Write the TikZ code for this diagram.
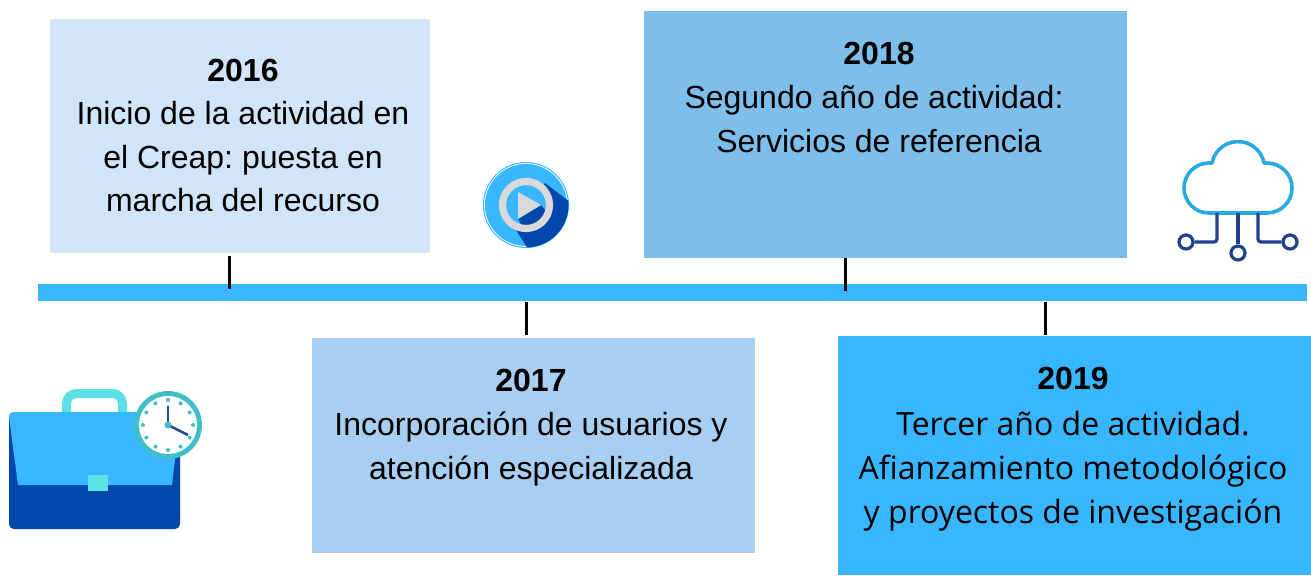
\documentclass[tikz,border=0pt]{standalone}
\usepackage{fontspec}
\setmainfont{Liberation Sans}
\newfontfamily\opens{Open Sans}
\definecolor{boxa}{HTML}{D2E4F7}
\definecolor{boxb}{HTML}{A8CFF1}
\definecolor{boxc}{HTML}{7DBEEA}
\definecolor{boxd}{HTML}{38B6FF}
\definecolor{navy}{HTML}{0047AB}
\definecolor{aqua}{HTML}{5CE1E6}
\definecolor{teal}{HTML}{3FBFC8}
\definecolor{hand}{HTML}{1F4E8C}
\definecolor{grey}{HTML}{D9D9D9}
\definecolor{cloudc}{HTML}{29A9E1}
\definecolor{wire}{HTML}{1F3F8F}
\tikzset{
  panel/.style={fill=#1,draw=none},
  tick/.style={draw=black,line width=1.5pt},
  label/.style={align=center,font=\fontsize{16}{22}\selectfont\frenchspacing,inner sep=0pt},
  cloudline/.style={draw=cloudc,line width=1.8pt,line join=round},
  wireline/.style={draw=wire,line width=1.6pt,rounded corners=1.5pt},
  wiredot/.style={draw=wire,line width=1.6pt,fill=white,circle,minimum size=7pt,inner sep=0pt}
}
\begin{document}
\begin{tikzpicture}[x=0.5pt,y=-0.5pt]
\useasboundingbox[fill=white] (0,0) rectangle (1311,575);
% panels
\fill[panel=boxa] (50,19) rectangle (430,253);
\fill[panel=boxb] (312,338) rectangle (755,553);
\fill[panel=boxc] (644,11) rectangle (1127,258);
\fill[panel=boxd] (838,336) rectangle (1311,575);
\fill[boxd] (38,284) rectangle (1307,301);
% ticks
\coordinate (t1a) at (229,256); \coordinate (t1b) at (229,289);
\coordinate (t2a) at (526,302); \coordinate (t2b) at (526,335);
\coordinate (t3a) at (845,258); \coordinate (t3b) at (845,291);
\coordinate (t4a) at (1045,302); \coordinate (t4b) at (1045,335);
\draw[tick] (t1a) -- (t1b);
\draw[tick] (t2a) -- (t2b);
\draw[tick] (t3a) -- (t3b);
\draw[tick] (t4a) -- (t4b);
% texts
\node[label,font=\fontsize{16}{21.7}\selectfont\frenchspacing] (a) at (243,135.5) {\textbf{2016}\\Inicio de la actividad en\\el Creap: puesta en\\marcha del recurso};
\node[label] (b) at (531,428) {\textbf{2017}\\Incorporación de usuarios y\\atención especializada};
\node[label] (c) at (879,97) {\textbf{2018}\\Segundo año de actividad:\hspace{5pt}\mbox{}\\Servicios de referencia};
\node[label] (d) at (1073,449) {\textbf{2019}\\[1pt]{\opens Tercer año de actividad.}\\{\opens Afianzamiento metodológico}\\{\opens y proyectos de investigación}};
% briefcase
\draw[aqua,line width=4.5pt,rounded corners=5pt] (66.5,414) -- (66.5,393.5) -- (122.5,393.5) -- (122.5,414);
\fill[navy,rounded corners=2.5pt] (9,412) rectangle (180,529);
\fill[boxd] (9,417) .. controls (9,414) and (11,412) .. (14,412) -- (175,412) .. controls (178,412) and (180,414) .. (180,417) -- (172,485) -- (18,485) -- cycle;
\fill[aqua] (88,475) rectangle (108,491);
\fill[teal] (168,425) circle[radius=34];
\fill[white] (168,425) circle[radius=29];
\foreach \a in {0,30,...,330} \fill[teal] ({168+25*cos(\a)},{425+25*sin(\a)}) circle[radius=2];
\draw[hand,line width=1.3pt] (168,425) -- (168,406);
\draw[hand,line width=1.3pt] (168,425) -- (188,435);
\fill[teal] (168,425) circle[radius=3.5];
% play
\fill[boxd] (526,205) circle[radius=43];
\draw[white,line width=0.4pt] (526,205) circle[radius=41.5];
\begin{scope}
\clip (526,205) circle[radius=42.5];
\fill[navy] (545,183) -- (600,225) -- (560,300) -- (513,225) -- cycle;
\fill[boxd] (526,205) circle[radius=22];
\clip (526,205) circle[radius=22];
\fill[navy] (518,219) -- (541,205) -- (570,240) -- (530,240) -- cycle;
\end{scope}
\draw[grey,line width=3.6pt] (526,205) circle[radius=23.5];
\fill[grey] (518,192) -- (541,205) -- (518,219) -- cycle;
% cloud
\draw[cloudline] (1209,213) arc[start angle=90,end angle=270,radius=25] -- (1212,163)
  arc[start angle=191,end angle=349,radius=26.5] -- (1267,163)
  arc[start angle=270,end angle=450,radius=25] -- cycle;
\coordinate (s1) at (1217,213); \coordinate (s2) at (1238,213); \coordinate (s3) at (1258,213);
\node[wiredot] (c1) at (1186,242) {};
\node[wiredot] (c2) at (1238,253) {};
\node[wiredot] (c3) at (1290,242) {};
\draw[wireline] (s1) |- (c1);
\draw[wireline] (s2) -- (c2);
\draw[wireline] (s3) |- (c3);
\end{tikzpicture}
\end{document}
